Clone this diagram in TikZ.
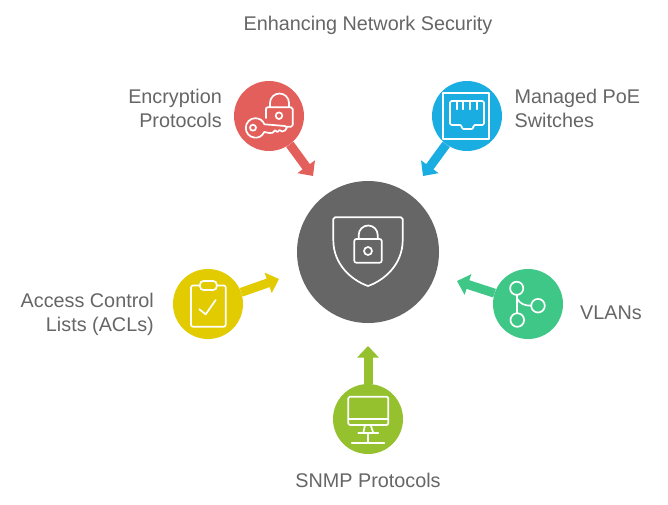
\documentclass[tikz,border=0pt]{standalone}
\usepackage{fontspec}
\setmainfont{Liberation Sans}
\usetikzlibrary{arrows.meta}
\definecolor{hubgray}{HTML}{666666}
\definecolor{keyred}{HTML}{E35F5B}
\definecolor{portblue}{HTML}{1AADE2}
\definecolor{listyellow}{HTML}{E2CB00}
\definecolor{branchgreen}{HTML}{3EC786}
\definecolor{screenlime}{HTML}{95C12F}
\definecolor{captiongray}{HTML}{666666}
\tikzset{
  disc/.style={circle,inner sep=0pt,minimum size=70pt,fill=#1},
  feed/.style={line width=9pt,draw=#1,-{Triangle[length=11.5pt,width=21pt]}},
  glyph/.style={draw=white,line width=1.7pt,line join=round,line cap=round,fill=none},
  caption/.style={text=captiongray,font=\fontsize{19.8}{24}\selectfont,inner sep=0pt}
}
\begin{document}
\begin{tikzpicture}[x=1pt,y=-1pt]
\useasboundingbox (0,0) rectangle (668,504);
\fill[white] (0,0) rectangle (668,504);

% Central hub and the five surrounding discs
\node[disc=hubgray,minimum size=142pt] (hub) at (368,252) {};
\node[disc=keyred] (enc) at (269,116) {};
\node[disc=portblue] (poe) at (467,116) {};
\node[disc=listyellow] (acl) at (208,304) {};
\node[disc=branchgreen] (vlan) at (528,304) {};
\node[disc=screenlime] (snmp) at (368,419) {};

% Free ends of the connectors
\coordinate (encTip) at (313,176);
\coordinate (poeTip) at (423,176);
\coordinate (aclTip) at (279,279);
\coordinate (vlanTip) at (457,281);
\coordinate (snmpTip) at (368,346);

\draw[feed=keyred] (enc) -- (encTip);
\draw[feed=portblue] (poe) -- (poeTip);
\draw[feed=listyellow] (acl) -- (aclTip);
\draw[feed=branchgreen] (vlan) -- (vlanTip);
\draw[feed=screenlime] (snmp) -- (snmpTip);

% Shield with padlock
\draw[glyph] (335,217.3) -- (401,217.3) .. controls (402.2,217.3) and (402.7,217.9) .. (402.7,219)
  -- (402.7,240) .. controls (402.7,264) and (385,280) .. (368,286)
  .. controls (351,280) and (333.3,264) .. (333.3,240) -- (333.3,219)
  .. controls (333.3,217.9) and (333.8,217.3) .. (335,217.3) -- cycle;
\draw[glyph,rounded corners=2pt] (354.3,239) rectangle (381.7,262.7);
\draw[glyph] (358.7,239) -- (358.7,235) arc[start angle=180,end angle=360,radius=9.5] -- (377.7,239);
\draw[glyph] (368,251) circle[radius=4];

% Padlock and key
\draw[glyph] (266,118) -- (266,109) .. controls (266,107.8) and (266.6,107.3) .. (268,107.3)
  -- (291,107.3) .. controls (292.2,107.3) and (292.7,107.8) .. (292.7,109) -- (292.7,125)
  .. controls (292.7,126) and (292,126.7) .. (291,126.7) -- (287,126.7);
\draw[glyph] (270,107.3) -- (270,103) arc[start angle=180,end angle=360,radius=9.5] -- (289,107.3);
\draw[glyph] (279,115.7) circle[radius=3.3];
\draw[glyph] (264.4,124.3) -- (285,126) -- (287,127.5) -- (285,130.5) -- (282,131.5)
  -- (279.5,130) -- (277.5,132) -- (275,130.3) -- (272.5,132.8) -- (269.5,133)
  -- (264.2,132) .. controls (262,137) and (257.5,138) .. (254.5,137.6)
  .. controls (249,137) and (245.8,132.5) .. (245.8,128)
  .. controls (245.8,122.5) and (250,118.2) .. (255.3,118.2)
  .. controls (259.5,118.2) and (263,120.5) .. (264.4,124.3) -- cycle;
\draw[glyph] (253,127.7) circle[radius=3];

% Network port in its frame
\draw[glyph] (443.3,93.3) rectangle (489.3,139.3);
\draw[glyph,rounded corners=1.5pt] (450,101) -- (484,101) -- (484,125) -- (473.3,125) -- (473.3,129)
  -- (461.7,129) -- (461.7,125) -- (450,125) -- cycle;
\foreach \px in {456.7,463.3,470,476.7}
  \draw[glyph] (\px,101) -- (\px,109.3);

% Clipboard with check mark
\draw[glyph,rounded corners=2pt] (200,285.5) -- (191,285.5) -- (191,326.7) -- (225.7,326.7) -- (225.7,285.5) -- (216.7,285.5);
\draw[glyph,rounded corners=3.5pt] (200,281) rectangle (216.7,290);
\draw[glyph] (199.3,309.3) -- (205.7,314.3) -- (215.7,300);

% Branching graph
\draw[glyph] (516.7,288.3) circle[radius=6.6];
\draw[glyph] (538,305.7) circle[radius=6.8];
\draw[glyph] (517.3,320) circle[radius=6.8];
\draw[glyph] (517,295) -- (517,313.2);
\draw[glyph] (517,298.5) .. controls (520,304) and (525,305.7) .. (531.2,305.7);

% Networked monitor
\draw[glyph,rounded corners=1.5pt] (348.3,396.7) rectangle (388.3,425);
\draw[glyph] (348.3,419.3) -- (388.3,419.3);
\draw[glyph] (365,425) -- (363.3,433);
\draw[glyph] (370.7,425) -- (373.3,433);
\draw[glyph] (358.3,433) -- (378.3,433);
\draw[glyph] (368,433) -- (368,442.7);
\draw[glyph] (351.7,442.7) -- (384.3,442.7);

% Captions
\node[caption] (title) at (368,25) {Enhancing Network Security};
\node[caption,align=right,anchor=east] (encText) at (222,108) {Encryption\\Protocols};
\node[caption,align=left,anchor=west] (poeText) at (514.5,108) {Managed PoE\\Switches};
\node[caption,align=right,anchor=east] (aclText) at (154,314) {Access Control\\Lists (ACLs)};
\node[caption,anchor=west] (vlanText) at (580,312.5) {VLANs};
\node[caption] (snmpText) at (368,480) {SNMP Protocols};
\end{tikzpicture}
\end{document}
